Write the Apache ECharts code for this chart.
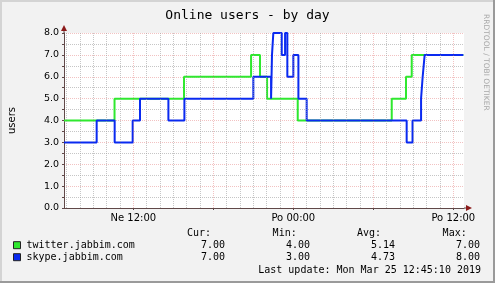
<!DOCTYPE html>
<html><head><meta charset="utf-8">
<script src="https://cdn.jsdelivr.net/npm/echarts@6/dist/echarts.min.js"></script>
<style>html,body{margin:0;padding:0;background:#f2f2f2}#c{width:495px;height:283px}</style>
</head><body><div id="c"></div>
<script>
// hours since Sunday (Ne) 00:00
var twitterX = [6.8, 10.59, 15.8, 20.83, 21.5, 22.03, 24.33, 31.38, 32.45, 32.88, 36.75];
var twitterY = [4, 5, 6, 7, 6, 5, 4, 5, 6, 7, 7];
var skypeX = [6.8, 9.25, 10.6, 11.95, 12.5, 14.63, 15.83, 21.0, 22.33, 22.4, 22.5, 23.13, 23.38, 23.55, 24.0, 24.38, 25.0, 32.5, 32.94, 33.58, 33.7, 33.85, 36.75];
var skypeY = [3, 4, 3, 4, 5, 4, 5, 6, 5, 7, 8, 7, 8, 6, 7, 5, 4, 3, 4, 5, 6, 7, 7];
var xTickValues = [12, 24, 36];
var xTickLabels = ['Ne 12:00', 'Po 00:00', 'Po 12:00'];
var minorHours = [7,8,9,10,11,13,14,15,16,17,19,20,21,22,23,25,26,27,28,29,31,32,33,34,35];
var majorHours = [12,18,24,30,36];
var seriesNames = ['twitter.jabbim.com', 'skype.jabbim.com'];
var statHeaders = ['Cur:', 'Min:', 'Avg:', 'Max:'];
var twitterStats = ['7.00', '4.00', '5.14', '7.00'];
var skypeStats = ['7.00', '3.00', '4.73', '8.00'];
var lastUpdate = 'Last update: Mon Mar 25 12:45:10 2019';

var GREEN = '#2fe82f', BLUE = '#0a2af0';
function pairs(xs, ys){ return xs.map(function(x,i){ return [x, ys[i]]; }); }
var mono = 'DejaVu Sans Mono';
var sans = 'DejaVu Sans';
var GRIDGREY = 'rgba(160,160,160,0.6)';
var GRIDRED = 'rgba(225,110,110,0.42)';

var chart = echarts.init(document.getElementById('c'), null, {renderer:'canvas'});
var option = {
  animation: false,
  backgroundColor: '#f2f2f2',
  title: {
    text: 'Online users - by day', left: 'center', top: 4,
    textStyle: {fontFamily: mono, fontSize: 13, fontWeight: 'normal', color: '#000'}
  },
  grid: {left: 64, top: 33, width: 400, height: 175, show: true, backgroundColor: '#fff', borderWidth: 0,
    containLabel: false, outerBoundsMode: 'none'},
  xAxis: {
    type: 'value', min: 6.8, max: 36.8,
    splitLine: {show: false},
    axisLine: {show: true, onZero: false, lineStyle: {color: '#604848', width: 1}},
    axisTick: {show: true, customValues: majorHours, length: 2, lineStyle: {color: '#604848'}},
    axisLabel: {customValues: xTickValues, fontFamily: sans, fontSize: 10, color: '#000', margin: 5,
      formatter: function(v){ var i = xTickValues.indexOf(Math.round(v)); return i >= 0 ? xTickLabels[i] : ''; }}
  },
  yAxis: {
    type: 'value', min: 0, max: 8, interval: 1,
    name: 'users', nameLocation: 'middle', nameRotate: 90, nameGap: 47,
    nameTextStyle: {fontFamily: sans, fontSize: 10, color: '#000'},
    axisLine: {show: true, lineStyle: {color: '#604848', width: 1}},
    axisTick: {show: true, length: 2, lineStyle: {color: '#604848'}},
    minorTick: {show: true, splitNumber: 2, length: 2, lineStyle: {color: '#604848'}},
    axisLabel: {fontFamily: sans, fontSize: 9.5, color: '#000', margin: 5,
      formatter: function(v){ return v.toFixed(1); }},
    splitLine: {show: true, lineStyle: {color: GRIDRED, type: [1,1], width: 1}},
    minorSplitLine: {show: true, lineStyle: {color: GRIDGREY, type: [1,1], width: 1}}
  },
  series: [
    {type: 'line', data: [], silent: true,
      markLine: {silent: true, symbol: 'none', label: {show: false}, animation: false,
        lineStyle: {color: GRIDGREY, type: [1,1], width: 1},
        data: minorHours.map(function(h){ return {xAxis: h}; })}},
    {type: 'line', data: [], silent: true,
      markLine: {silent: true, symbol: 'none', label: {show: false}, animation: false,
        lineStyle: {color: GRIDRED, type: [1,1], width: 1},
        data: majorHours.map(function(h){ return {xAxis: h}; })}},
    {type: 'line', name: seriesNames[0], step: 'end', showSymbol: false, data: pairs(twitterX, twitterY),
      lineStyle: {color: GREEN, width: 2}, itemStyle: {color: GREEN}},
    {type: 'line', name: seriesNames[1], step: 'end', showSymbol: false, data: pairs(skypeX, skypeY),
      lineStyle: {color: BLUE, width: 2}, itemStyle: {color: BLUE}}
  ]
};
chart.setOption(option);

var o = chart.convertToPixel({gridIndex: 0}, [6.8, 0]);
var tr = chart.convertToPixel({gridIndex: 0}, [36.8, 8]);
var x0 = o[0], y0 = o[1], x1 = tr[0], y1 = tr[1];
var AR = '#8b1a1a';
var g = [
  // frame
  {type: 'rect', shape: {x: 0, y: 0, width: 495, height: 2}, style: {fill: '#d4d4d4'}},
  {type: 'rect', shape: {x: 0, y: 0, width: 2, height: 283}, style: {fill: '#d4d4d4'}},
  {type: 'rect', shape: {x: 0, y: 281, width: 495, height: 2}, style: {fill: '#9a9a9a'}},
  {type: 'rect', shape: {x: 493, y: 0, width: 2, height: 283}, style: {fill: '#9a9a9a'}},
  // axis extensions and arrows
  {type: 'line', shape: {x1: x0, y1: y1, x2: x0, y2: y1 - 2}, style: {stroke: '#604848', lineWidth: 1}},
  {type: 'polygon', shape: {points: [[x0 - 3, y1 - 2], [x0 + 3, y1 - 2], [x0, y1 - 8]]}, style: {fill: AR}},
  {type: 'line', shape: {x1: x1, y1: y0, x2: x1 + 2, y2: y0}, style: {stroke: '#604848', lineWidth: 1}},
  {type: 'polygon', shape: {points: [[x1 + 2, y0 - 3], [x1 + 2, y0 + 3], [x1 + 8, y0]]}, style: {fill: AR}},
  // watermark
  {type: 'text', x: 482, y: 14, rotation: -Math.PI / 2,
    style: {text: 'RRDTOOL / TOBI OETIKER', fontFamily: sans, fontSize: 7.5, fill: '#a8a8a8', textAlign: 'left', textVerticalAlign: 'bottom'}},
  // last update
  {type: 'text', x: 481, y: 270, style: {text: lastUpdate, fontFamily: mono, fontSize: 10, fill: '#000', textAlign: 'right', textVerticalAlign: 'middle'}}
];
var headerRight = [211, 296.7, 381, 466.7];
var valueRight = [225, 310, 395, 480];
statHeaders.forEach(function(h, i){
  g.push({type: 'text', x: headerRight[i], y: 233.5, style: {text: h, fontFamily: mono, fontSize: 10, fill: '#000', textAlign: 'right', textVerticalAlign: 'middle'}});
});
[[twitterStats, GREEN, 245.7, seriesNames[0]], [skypeStats, BLUE, 257.7, seriesNames[1]]].forEach(function(row){
  g.push({type: 'rect', shape: {x: 13.5, y: row[2] - 4, width: 7, height: 7}, style: {fill: row[1], stroke: '#222', lineWidth: 1}});
  g.push({type: 'text', x: 26.5, y: row[2], style: {text: row[3], fontFamily: mono, fontSize: 10, fill: '#000', textAlign: 'left', textVerticalAlign: 'middle'}});
  row[0].forEach(function(v, i){
    g.push({type: 'text', x: valueRight[i], y: row[2], style: {text: v, fontFamily: mono, fontSize: 10, fill: '#000', textAlign: 'right', textVerticalAlign: 'middle'}});
  });
});
chart.setOption({graphic: {elements: g}});
</script></body></html>
